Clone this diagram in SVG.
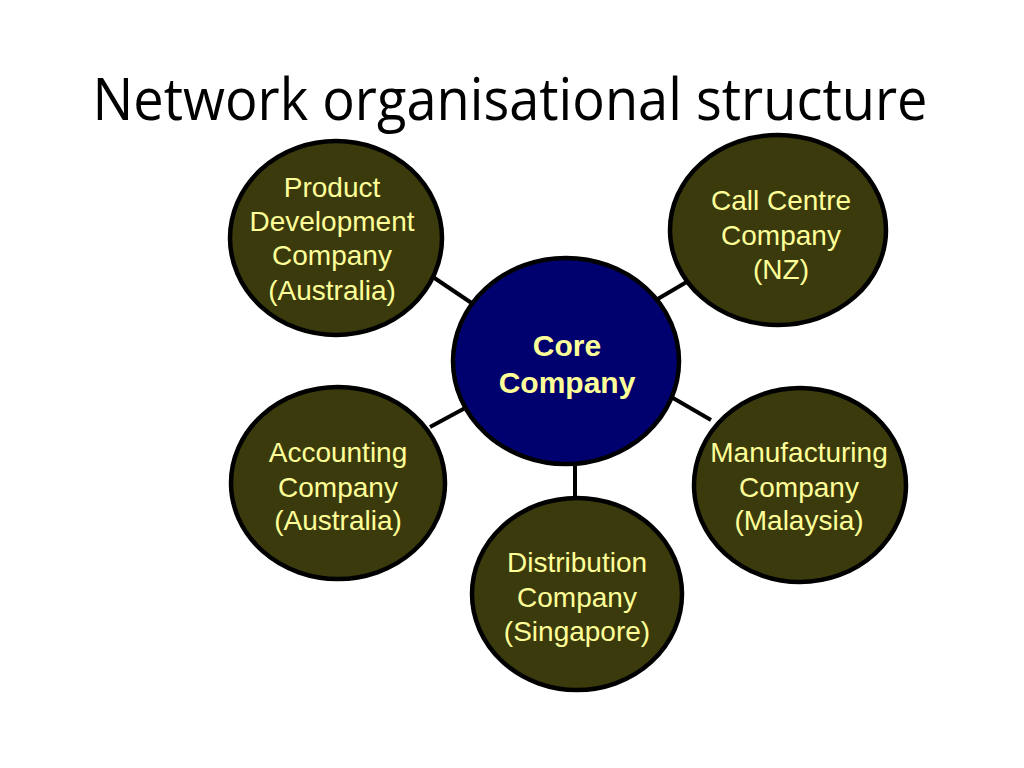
<svg xmlns="http://www.w3.org/2000/svg" width="1024" height="768" viewBox="0 0 1024 768">
<style>
.node{fill:#3b3a0c;stroke:#000;stroke-width:4.5}
.core{fill:#00006e;stroke:#000;stroke-width:4.5}
.lbl{font-family:"Liberation Sans",Arial,sans-serif;font-size:28px;fill:#ffff99;text-anchor:middle}
.clbl{font-family:"Liberation Sans",Arial,sans-serif;font-size:30px;font-weight:bold;fill:#ffff99;text-anchor:middle}
.conn line{stroke:#000;stroke-width:4}
</style>
<rect width="1024" height="768" fill="#fff"/>
<text x="510" y="120" font-family="'Open Sans','DejaVu Sans',sans-serif" font-size="58" fill="#000" text-anchor="middle" textLength="835" lengthAdjust="spacingAndGlyphs">Network organisational structure</text>
<g id="connectors" class="conn">
<line x1="430" y1="275" x2="476" y2="306"/>
<line x1="656" y1="300" x2="690" y2="280"/>
<line x1="430" y1="427" x2="467" y2="407"/>
<line x1="673" y1="398" x2="711" y2="420"/>
<line x1="575" y1="458" x2="575" y2="498"/>
</g>
<g id="product-development">
<ellipse class="node" cx="336" cy="238" rx="106" ry="97"/>
<text class="lbl" x="332" y="197">Product</text>
<text class="lbl" x="332" y="231">Development</text>
<text class="lbl" x="332" y="265">Company</text>
<text class="lbl" x="332" y="300">(Australia)</text>
</g>
<g id="call-centre">
<ellipse class="node" cx="778" cy="230" rx="108" ry="95"/>
<text class="lbl" x="781" y="210">Call Centre</text>
<text class="lbl" x="781" y="245">Company</text>
<text class="lbl" x="781" y="279">(NZ)</text>
</g>
<g id="core">
<ellipse class="core" cx="566" cy="361" rx="113" ry="103"/>
<text class="clbl" x="567" y="356">Core</text>
<text class="clbl" x="567" y="393">Company</text>
</g>
<g id="accounting">
<ellipse class="node" cx="338" cy="483" rx="107" ry="96"/>
<text class="lbl" x="338" y="462">Accounting</text>
<text class="lbl" x="338" y="497">Company</text>
<text class="lbl" x="338" y="530">(Australia)</text>
</g>
<g id="manufacturing">
<ellipse class="node" cx="800" cy="485" rx="106" ry="97"/>
<text class="lbl" x="799" y="462">Manufacturing</text>
<text class="lbl" x="799" y="497">Company</text>
<text class="lbl" x="799" y="530">(Malaysia)</text>
</g>
<g id="distribution">
<ellipse class="node" cx="577" cy="594" rx="105" ry="96"/>
<text class="lbl" x="577" y="572">Distribution</text>
<text class="lbl" x="577" y="607">Company</text>
<text class="lbl" x="577" y="641">(Singapore)</text>
</g>
</svg>
